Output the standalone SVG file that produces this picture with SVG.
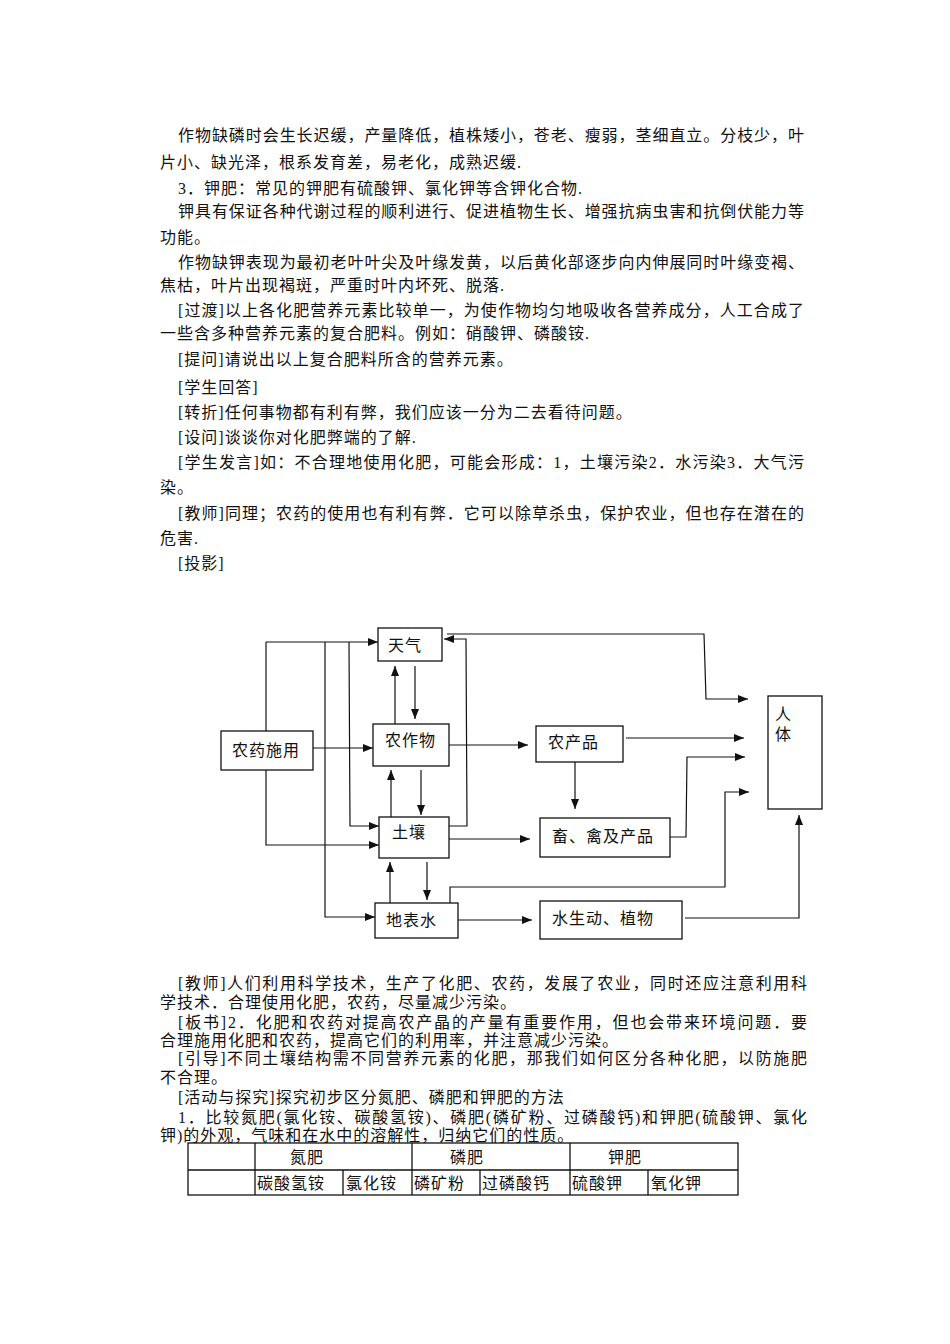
<svg xmlns="http://www.w3.org/2000/svg" width="950" height="1344" viewBox="0 0 950 1344">
<style>
text{font-family:"Liberation Serif","Noto Sans CJK SC",serif;font-size:16px;fill:#111;letter-spacing:1px}
.b{fill:none;stroke:#111;stroke-width:1.3}
.c line,.c polyline{fill:none;stroke:#111;stroke-width:1.2}
.c .a{marker-end:url(#ah)}
.t{font-size:16px}
</style>
<defs><marker id="ah" viewBox="0 0 10 10" refX="10" refY="5" markerWidth="10" markerHeight="10" markerUnits="userSpaceOnUse" orient="auto"><path d="M0,1 L10,5 L0,9 Z" fill="#111"/></marker></defs>
<rect width="950" height="1344" fill="#fff"/>
<g id="text-top">
<text x="178" y="141" textLength="627" lengthAdjust="spacing">作物缺磷时会生长迟缓，产量降低，植株矮小，苍老、瘦弱，茎细直立。分枝少，叶</text>
<text x="160" y="168">片小、缺光泽，根系发育差，易老化，成熟迟缓.</text>
<text x="178" y="194">3．钾肥：常见的钾肥有硫酸钾、氯化钾等含钾化合物.</text>
<text x="178" y="217" textLength="627" lengthAdjust="spacing">钾具有保证各种代谢过程的顺利进行、促进植物生长、增强抗病虫害和抗倒伏能力等</text>
<text x="160" y="243">功能。</text>
<text x="178" y="268" textLength="627" lengthAdjust="spacing">作物缺钾表现为最初老叶叶尖及叶缘发黄，以后黄化部逐步向内伸展同时叶缘变褐、</text>
<text x="160" y="291">焦枯，叶片出现褐斑，严重时叶内坏死、脱落.</text>
<text x="178" y="316" textLength="627" lengthAdjust="spacing">[过渡]以上各化肥营养元素比较单一，为使作物均匀地吸收各营养成分，人工合成了</text>
<text x="160" y="339">一些含多种营养元素的复合肥料。例如：硝酸钾、磷酸铵.</text>
<text x="178" y="365">[提问]请说出以上复合肥料所含的营养元素。</text>
<text x="178" y="393">[学生回答]</text>
<text x="178" y="418">[转折]任何事物都有利有弊，我们应该一分为二去看待问题。</text>
<text x="178" y="443">[设问]谈谈你对化肥弊端的了解.</text>
<text x="178" y="468" textLength="627" lengthAdjust="spacing">[学生发言]如：不合理地使用化肥，可能会形成：1，土壤污染2．水污染3．大气污</text>
<text x="160" y="493">染。</text>
<text x="178" y="519" textLength="627" lengthAdjust="spacing">[教师]同理；农药的使用也有利有弊．它可以除草杀虫，保护农业，但也存在潜在的</text>
<text x="160" y="544">危害.</text>
<text x="178" y="569">[投影]</text>
</g>
<g id="n-tianqi"><rect class="b" x="378" y="628" width="64" height="33"/><text x="388" y="651">天气</text></g>
<g id="n-nongyao"><rect class="b" x="221" y="731" width="92" height="39"/><text x="232" y="756">农药施用</text></g>
<g id="n-nongzuowu"><rect class="b" x="373" y="724" width="76" height="42"/><text x="385" y="746">农作物</text></g>
<g id="n-turang"><rect class="b" x="379" y="817" width="70" height="41"/><text x="392" y="838">土壤</text></g>
<g id="n-dibiaoshui"><rect class="b" x="375" y="903" width="83" height="35"/><text x="386" y="926">地表水</text></g>
<g id="n-nongchanpin"><rect class="b" x="536" y="726" width="87" height="36"/><text x="548" y="748">农产品</text></g>
<g id="n-chuqin"><rect class="b" x="540" y="818" width="130" height="39"/><text x="552" y="842">畜、禽及产品</text></g>
<g id="n-shuisheng"><rect class="b" x="540" y="901" width="142" height="38"/><text x="552" y="924">水生动、植物</text></g>
<g id="n-renti"><rect class="b" x="768" y="696" width="54" height="113"/><text x="775" y="720">人</text><text x="775" y="740">体</text></g>
<g class="c" id="connectors">
<polyline points="266,731 266,642"/>
<line class="a" x1="266" y1="642" x2="378" y2="642"/>
<polyline class="a" points="325,642 325,917 375,917"/>
<polyline class="a" points="349,642 350,826 379,826"/>
<polyline class="a" points="266,770 266,845 379,845"/>
<line class="a" x1="313" y1="748" x2="373" y2="748"/>
<line class="a" x1="415" y1="666" x2="415" y2="719"/>
<line class="a" x1="395" y1="724" x2="395" y2="666"/>
<line class="a" x1="421" y1="770" x2="421" y2="815"/>
<line class="a" x1="391" y1="817" x2="391" y2="770"/>
<line class="a" x1="427" y1="862" x2="427" y2="900"/>
<line class="a" x1="390" y1="903" x2="390" y2="862"/>
<polyline class="a" points="449,826 467,826 466,639 444,639"/>
<polyline class="a" points="447,634 704,634 706,699 748,699"/>
<line class="a" x1="449" y1="745" x2="528" y2="745"/>
<line class="a" x1="626" y1="738" x2="744" y2="738"/>
<line class="a" x1="575" y1="762" x2="575" y2="809"/>
<line class="a" x1="449" y1="839" x2="530" y2="839"/>
<polyline class="a" points="670,837 686,837 687,757 745,757"/>
<polyline class="a" points="450,903 450,887 725,887 725,792 749,792"/>
<line class="a" x1="458" y1="920" x2="532" y2="920"/>
<polyline class="a" points="685,918 799,918 799,815"/>
</g>
<g id="text-bottom">
<text x="178" y="989" textLength="630" lengthAdjust="spacing">[教师]人们利用科学技术，生产了化肥、农药，发展了农业，同时还应注意利用科</text>
<text x="160" y="1008">学技术．合理使用化肥，农药，尽量减少污染。</text>
<text x="178" y="1028" textLength="630" lengthAdjust="spacing">[板书]2．化肥和农药对提高农产晶的产量有重要作用，但也会带来环境问题．要</text>
<text x="160" y="1046">合理施用化肥和农药，提高它们的利用率，并注意减少污染。</text>
<text x="178" y="1064" textLength="630" lengthAdjust="spacing">[引导]不同土壤结构需不同营养元素的化肥，那我们如何区分各种化肥，以防施肥</text>
<text x="160" y="1083">不合理。</text>
<text x="178" y="1103">[活动与探究]探究初步区分氮肥、磷肥和钾肥的方法</text>
<text x="178" y="1123" textLength="630" lengthAdjust="spacing">1．比较氮肥(氯化铵、碳酸氢铵)、磷肥(磷矿粉、过磷酸钙)和钾肥(硫酸钾、氯化</text>
<text x="160" y="1141">钾)的外观，气味和在水中的溶解性，归纳它们的性质。</text>
</g>
<g id="table">
<rect class="b" x="188" y="1143" width="550" height="52"/>
<line class="b" x1="188" y1="1170" x2="738" y2="1170"/>
<line class="b" x1="255" y1="1143" x2="255" y2="1195"/>
<line class="b" x1="412" y1="1143" x2="412" y2="1195"/>
<line class="b" x1="570" y1="1143" x2="570" y2="1195"/>
<line class="b" x1="343" y1="1170" x2="343" y2="1195"/>
<line class="b" x1="480" y1="1170" x2="480" y2="1195"/>
<line class="b" x1="648" y1="1170" x2="648" y2="1195"/>
<text x="290" y="1163">氮肥</text><text x="450" y="1163">磷肥</text><text x="608" y="1163">钾肥</text>
<text x="257" y="1189">碳酸氢铵</text><text x="346" y="1189">氯化铵</text><text x="414" y="1189">磷矿粉</text><text x="482" y="1189">过磷酸钙</text><text x="572" y="1189">硫酸钾</text><text x="651" y="1189">氧化钾</text>
</g>
</svg>
